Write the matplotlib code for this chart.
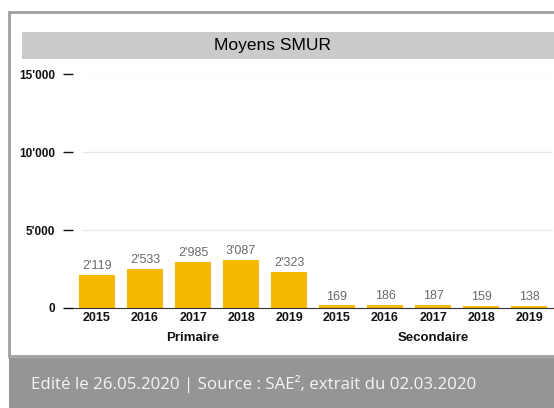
import matplotlib
matplotlib.use("Agg")
import matplotlib.pyplot as plt
import matplotlib.ticker as ticker
from matplotlib.patches import Rectangle

# Données
annees = ["2015", "2016", "2017", "2018", "2019"]
primaire = [2119, 2533, 2985, 3087, 2323]
secondaire = [169, 186, 187, 159, 138]
groupes = ["Primaire", "Secondaire"]
titre = "Moyens SMUR"
pied = "Edité le 26.05.2020 | Source : SAE², extrait du 02.03.2020"

JAUNE = "#F7B800"
W, H = 554, 408


def fx(px):
    return px / W


def fy(py):
    return 1 - py / H


fig = plt.figure(figsize=(W / 100, H / 100), dpi=100)
fig.patch.set_facecolor("white")

# cadre blanc + bandeau gris du bas
fig.patches.append(Rectangle((fx(9), fy(356)), fx(560) - fx(9), fy(12) - fy(356),
                             transform=fig.transFigure, facecolor="white",
                             edgecolor="#a0a0a0", linewidth=2, zorder=0))
fig.patches.append(Rectangle((fx(9), 0), 1, fy(358), transform=fig.transFigure,
                             facecolor="#959595", edgecolor="none", zorder=0))
# bandeau du titre
fig.patches.append(Rectangle((fx(22), fy(59)), 1, fy(32) - fy(59),
                             transform=fig.transFigure, facecolor="#cbcbcb",
                             edgecolor="none", zorder=1))
fig.text(fx(272), fy(45.5), titre, ha="center", va="center", fontsize=12.5,
         family="Liberation Sans", color="black", zorder=2)
fig.text(fx(31), fy(384), pied, ha="left", va="center", fontsize=12.2,
         family="Open Sans", color="#f4f4f4")

ax = fig.add_axes([fx(73), fy(308), fx(553) - fx(73), fy(74.5) - fy(308)])
ax.set_facecolor("none")
ax.set_zorder(5)

valeurs = primaire + secondaire
x = list(range(len(valeurs)))
ax.bar(x, valeurs, width=0.76, color=JAUNE, zorder=3)
for xi, v in zip(x, valeurs):
    ax.text(xi, v + 180, f"{v:,}".replace(",", "'"), ha="center", va="bottom",
            fontsize=9, color="#6a6a6a", family="Liberation Sans", zorder=4)

ax.set_xlim(-0.5, len(valeurs) - 0.5)
ax.set_ylim(0, 15000)
ax.set_yticks([0, 5000, 10000, 15000])
ax.yaxis.set_major_formatter(ticker.FuncFormatter(lambda v, _: f"{int(v):,}".replace(",", "'")))
for yv in [5000, 10000, 15000]:
    ax.axhline(yv, xmin=0.02, xmax=1, color="#e6e6e6", linewidth=1, zorder=1)

ax.set_xticks(x)
ax.set_xticklabels(annees * 2)
for lbl in ax.get_xticklabels() + ax.get_yticklabels():
    lbl.set_fontweight("bold")
    lbl.set_family("Liberation Sans")
ax.tick_params(axis="y", length=7, width=1, pad=6, labelsize=8.5, colors="#111111")
ax.tick_params(axis="x", length=0, pad=3, labelsize=9, colors="#111111")

for s in ["top", "right", "left"]:
    ax.spines[s].set_visible(False)
ax.spines["bottom"].set_color("#333333")
ax.spines["bottom"].set_zorder(5)

for i, g in enumerate(groupes):
    ax.text(2 + 5 * i, -1950, g, ha="center", va="center", fontsize=9.5,
            fontweight="bold", family="Liberation Sans", color="#111111")

fig.savefig("out.png", dpi=100)
